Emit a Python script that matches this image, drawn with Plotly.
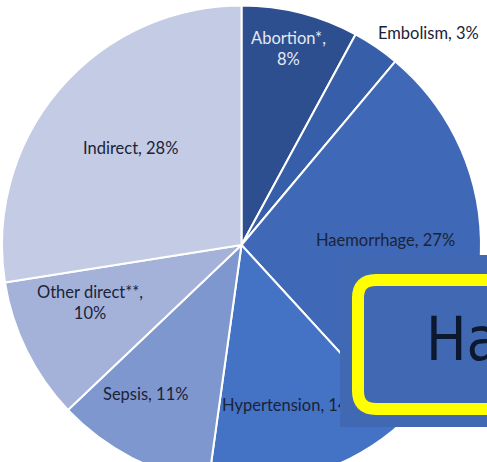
import plotly.graph_objects as go

causes = ["Abortion*", "Embolism", "Haemorrhage", "Hypertension", "Sepsis", "Other direct**", "Indirect"]
shares = [7.9, 3.2, 27.1, 14.0, 10.7, 9.6, 27.5]
shown_pct = ["8%", "3%", "27%", "14%", "11%", "10%", "28%"]
colors = ["#2E4F8F", "#375EA8", "#3F69B6", "#4472C4", "#7F97CF", "#A4B2DA", "#C3CCE4"]

W, H = 487, 500
ML, MR, MT, MB = 2, 6, 5, 15
PW, PH = W - ML - MR, H - MT - MB

def px(x):
    return (x - ML) / PW

def py(y):
    return 1 - (y - MT) / PH

FONT = "Lato, Open Sans, sans-serif"
FS = 16.5
in_pie = [c == "Hypertension" for c in causes]
pie_text = [f"{c}, {p}" if k else "" for c, p, k in zip(causes, shown_pct, in_pie)]

fig = go.Figure(go.Pie(
    labels=causes, values=shares, sort=False, direction="clockwise", rotation=0,
    marker=dict(colors=colors, line=dict(color="white", width=2)),
    text=pie_text, textinfo="text", textposition="inside", insidetextorientation="horizontal",
    textfont=dict(family=FONT, size=FS, color="#1B2338"),
    hoverinfo="label+percent", showlegend=False,
))

label_pos = [(288, 48), (428, 33), (385, 240), (303, 406), (145, 394), (90, 302), (130, 148)]
wrap = {0: True, 5: True}
for i, (c, p) in enumerate(zip(causes, shown_pct)):
    if in_pie[i]:
        continue
    txt = f"{c},<br>{p}" if wrap.get(i) else f"{c}, {p}"
    col = "#E4E9F2" if i == 0 else "#1B2338"
    x, y = label_pos[i]
    fig.add_annotation(x=px(x), y=py(y), xref="paper", yref="paper", text=txt,
                       showarrow=False, font=dict(family=FONT, size=FS, color=col),
                       xanchor="center", yanchor="middle", align="center")

# overlay box
fig.add_shape(type="rect", xref="paper", yref="paper", x0=px(340), x1=px(500), y0=py(427), y1=py(255),
              fillcolor="#4169B3", line=dict(width=0), layer="above")
r = 18
x0, y0, y1, x1 = 358, 280, 409, 520
path = (f"M {px(x0+r)},{py(y0)} L {px(x1)},{py(y0)} L {px(x1)},{py(y1)} L {px(x0+r)},{py(y1)} "
        f"Q {px(x0)},{py(y1)} {px(x0)},{py(y1-r)} L {px(x0)},{py(y0+r)} Q {px(x0)},{py(y0)} {px(x0+r)},{py(y0)} Z")
fig.add_shape(type="path", xref="paper", yref="paper", path=path,
              line=dict(color="#FFFF00", width=12), fillcolor="rgba(0,0,0,0)", layer="above")
fig.add_annotation(x=px(424), y=py(363), xref="paper", yref="paper", text="Ha", showarrow=False,
                   font=dict(family="Liberation Sans Narrow, DejaVu Sans Condensed, Liberation Sans, sans-serif",
                             size=60, color="#0B1830"),
                   xanchor="left", yanchor="bottom", yshift=-13)

fig.update_layout(width=W, height=H, margin=dict(l=ML, r=MR, t=MT, b=MB),
                  paper_bgcolor="white", plot_bgcolor="white")
fig.write_html("out.html", config={"displayModeBar": False},
               post_script="document.body.style.margin='0';document.body.style.overflow='hidden';")
